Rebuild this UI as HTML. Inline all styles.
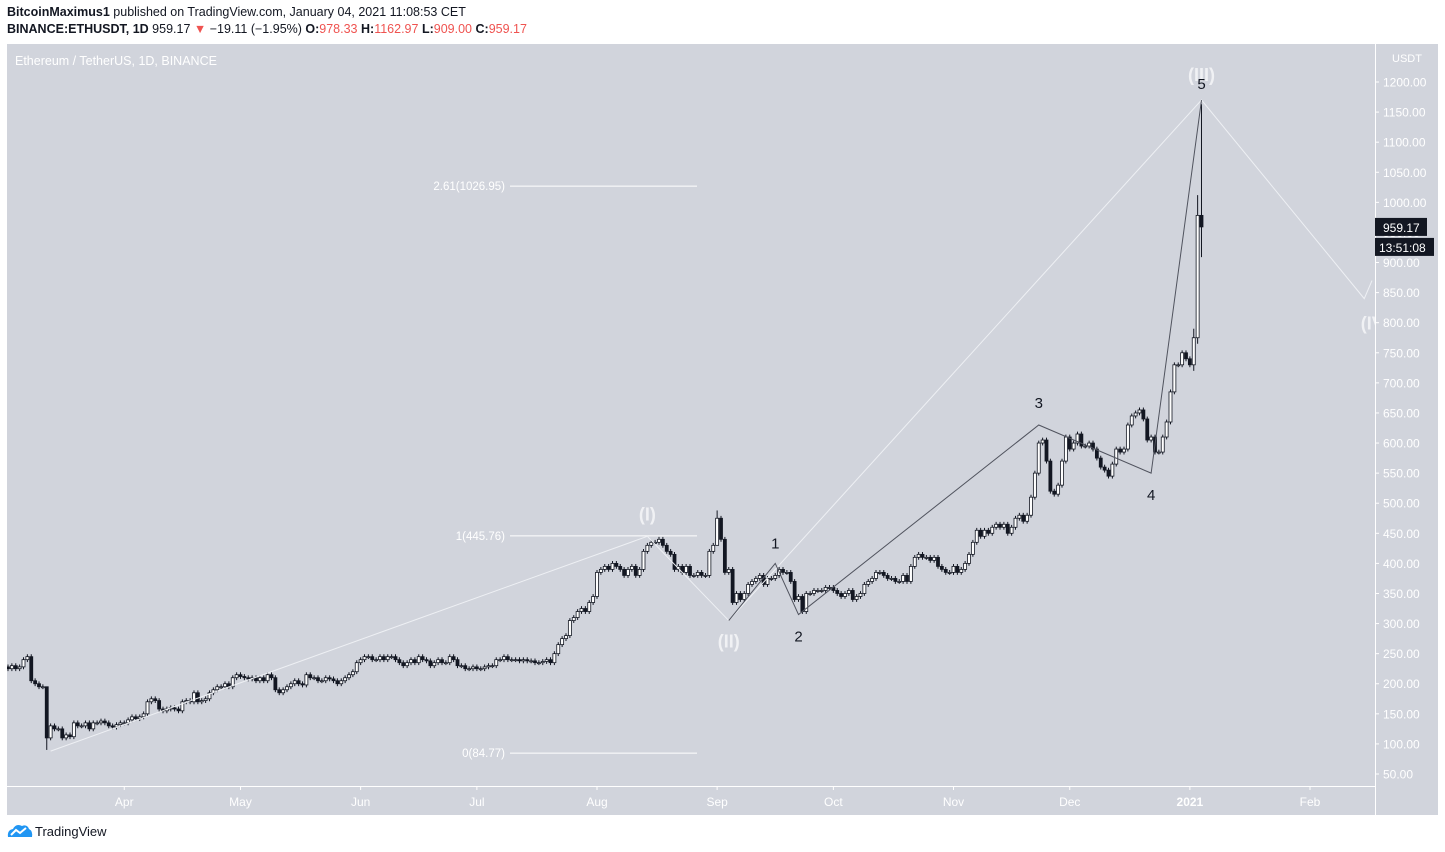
<!DOCTYPE html>
<html><head><meta charset="utf-8"><style>
body{margin:0;width:1445px;height:852px;background:#fff;font-family:"Liberation Sans",sans-serif;overflow:hidden;position:relative}
.hdr{position:absolute;left:7px;font-size:12.5px;color:#131722}
.red{color:#ef5350}
</style></head><body>
<div class="hdr" style="top:5px"><b>BitcoinMaximus1</b> published on TradingView.com, January 04, 2021 11:08:53 CET</div>
<div class="hdr" style="top:22px"><b>BINANCE:ETHUSDT, 1D</b> 959.17 <span class="red">▼</span> −19.11 (−1.95%) <b>O:</b><span class="red">978.33</span> <b>H:</b><span class="red">1162.97</span> <b>L:</b><span class="red">909.00</span> <b>C:</b><span class="red">959.17</span></div>
<svg id="chart" width="1445" height="852" style="position:absolute;left:0;top:0"></svg>
<div style="position:absolute;left:7px;top:823px;font-size:13px;color:#131722;display:flex;align-items:center">
<svg width="26" height="16" viewBox="0 0 26 16"><path d="M1 14 Q0 7 6 6 Q9 0 15 3 Q20 1 22 6 Q26 8 25 14 Z" fill="#2196f3"/><path d="M4 12 L9 7 L13 10 L19 5" stroke="#fff" stroke-width="2" fill="none"/></svg><span style="margin-left:2px">TradingView</span></div>
<script>
const closes=[225,230,225,228,240,245,205,200,195,195,110,130,125,125,110,115,112,135,130,130,135,125,135,135,138,135,130,128,132,135,
135,140,145,142,145,150,170,175,172,158,155,158,160,158,155,170,172,170,185,170,172,175,185,190,195,195,200,195,210,215,
212,210,208,210,205,210,205,215,210,190,185,190,195,200,205,200,198,215,210,210,205,205,210,208,205,200,205,210,215,220,235,
240,245,245,240,240,245,240,245,245,240,235,230,235,240,235,245,240,238,230,235,240,235,235,245,240,230,230,225,225,228,
225,225,228,230,230,240,240,245,240,240,240,238,240,238,238,235,235,237,240,235,250,265,275,280,305,310,320,325,320,335,345,
385,390,395,390,400,395,390,380,390,395,380,390,420,430,435,435,440,430,420,415,390,395,385,395,380,380,385,380,380,420,430,
475,440,385,390,335,350,340,350,365,370,375,380,365,375,375,380,390,385,385,370,340,345,320,350,350,355,355,355,360,360,
355,350,345,350,355,340,345,350,365,370,375,385,385,380,375,375,370,370,380,370,395,410,415,410,410,405,410,395,390,385,385,
395,385,390,400,415,435,455,445,455,450,460,465,460,465,450,460,475,480,470,480,510,550,600,605,570,520,515,530,570,610,
590,600,615,595,595,600,590,575,560,555,545,565,590,585,590,630,645,650,655,640,605,610,585,585,610,635,685,730,730,750,740,
730,775,978.33,959.17];
const firstOpen=228;
const wickDays=[10,183,306,307,308];
const wickHighs=[135,488,790,1012,1163];
const wickLows=[90,430,720,765,909];
const yTicks=[50,100,150,200,250,300,350,400,450,500,550,600,650,700,750,800,850,900,950,1000,1050,1100,1150,1200];
const monthLabels=["Apr","May","Jun","Jul","Aug","Sep","Oct","Nov","Dec","2021","Feb"];
const monthDays=[30,60,91,121,152,183,213,244,274,305,336];
const fibLevels=[2.61,1,0];
const fibPrices=[1026.95,445.76,84.77];
const cycleWaveLabels=["(I)","(II)","(III)","(IV"];
const cycleWaveDays=[165,186,308,350];
const cycleWavePrices=[445,305,1170,840];
const cycleStartDay=11, cycleStartPrice=88;
const subWaveLabels=["1","2","3","4","5"];
const subWaveDays=[198,204,266,295,308];
const subWavePrices=[400,315,630,550,1170];

const NS="http://www.w3.org/2000/svg";
const svg=document.getElementById('chart');
const L=7,R=1375,T=44,B=786;
const x=d=>8+d*3.875;
const y=v=>774-(v-50)*0.60174;
function el(t,a,p){const e=document.createElementNS(NS,t);for(const k in a)e.setAttribute(k,a[k]);(p||svg).appendChild(e);return e;}
const bg=el('rect',{x:L,y:T,width:R-L,height:B-T,fill:'#d1d4dc'});


const ax=el('rect',{x:R,y:T,width:1438-R,height:815-T,fill:'#d1d4dc'});


const bx=el('rect',{x:L,y:B,width:R-L,height:815-B,fill:'#d1d4dc'});


el('line',{x1:R+.5,y1:T,x2:R+.5,y2:815,stroke:'#fff'});
el('line',{x1:L,y1:B+.5,x2:R,y2:B+.5,stroke:'#fff'});
const defs=el('defs',{});const cp=el('clipPath',{id:'cp'},defs);el('rect',{x:L,y:T,width:R-L,height:B-T},cp);
const g=el('g',{'clip-path':'url(#cp)'});
const title=el('text',{x:15,y:65,fill:'#fff','font-size':12.5},g);title.textContent='Ethereum / TetherUS, 1D, BINANCE';


yTicks.forEach(v=>{el('line',{x1:R,x2:R+4,y1:y(v),y2:y(v),stroke:'#fff'});
const t=el('text',{x:1383,y:y(v)+4.5,fill:'#fff','font-size':12});t.textContent=v.toFixed(2);

});
const ut=el('text',{x:1392,y:62,fill:'#fff','font-size':11});ut.textContent='USDT';


monthLabels.forEach((m,i)=>{const xx=x(monthDays[i]);el('line',{x1:xx,x2:xx,y1:B,y2:B+4,stroke:'#fff'});
const t=el('text',{x:xx,y:806,fill:'#fff','font-size':12,'text-anchor':'middle','font-weight':m=='2021'?'bold':'normal'});t.textContent=m;

});
fibLevels.forEach((f,i)=>{const yy=y(fibPrices[i]);el('line',{x1:510,x2:697,y1:yy,y2:yy,stroke:'#fff'},g);
const t=el('text',{x:505,y:yy+4,fill:'#fff','font-size':11.5,'text-anchor':'end'},g);t.textContent=f+'('+fibPrices[i].toFixed(2)+')';

});
let prev=firstOpen;
closes.forEach((c,d)=>{const o=prev;prev=c;const xx=x(d);
let hi=Math.max(o,c)+4,lo=Math.min(o,c)-4;const wi=wickDays.indexOf(d);if(wi>=0){hi=wickHighs[wi];lo=wickLows[wi];}
const cg=el('g',{},g);


el('line',{x1:xx,x2:xx,y1:y(hi),y2:y(lo),stroke:'#131722'},cg);
const top=y(Math.max(o,c)),h=Math.max(1,y(Math.min(o,c))-top);
el('rect',{x:xx-1.5,y:top,width:3,height:h,fill:c>=o?'#fff':'#131722',stroke:'#131722','stroke-width':0.8},cg);});
let pts=[[x(cycleStartDay),y(cycleStartPrice)]];cycleWaveDays.forEach((d,i)=>pts.push([x(d),y(cycleWavePrices[i])]));
pts.push([x(352),y(870)]);
const cl=el('polyline',{points:pts.map(p=>p.join(',')).join(' '),fill:'none',stroke:'#eef0f4','stroke-width':1},g);


let sp=[[x(cycleWaveDays[1]),y(cycleWavePrices[1])]];subWaveDays.forEach((d,i)=>sp.push([x(d),y(subWavePrices[i])]));
const sl=el('polyline',{points:sp.map(p=>p.join(',')).join(' '),fill:'none',stroke:'#50535e','stroke-width':1},g);


const cOff=[-22,21,-25,25];
cycleWaveLabels.forEach((lb,i)=>{const t=el('text',{x:x(cycleWaveDays[i])+(i==3?8:0),y:y(cycleWavePrices[i])+cOff[i]+6,fill:'#f0f1f4','font-size':18,'font-weight':'bold','text-anchor':'middle'},g);t.textContent=lb;

});
const sOff=[-20,22,-22,22,-16];
subWaveLabels.forEach((lb,i)=>{const t=el('text',{x:x(subWaveDays[i]),y:y(subWavePrices[i])+sOff[i]+5,fill:'#131722','font-size':15,'text-anchor':'middle'},g);t.textContent=lb;

});
const last=closes[closes.length-1];
el('rect',{x:1375,y:y(last)-9,width:52,height:18,fill:'#131722'});
const pl=el('text',{x:1383,y:y(last)+5,fill:'#fff','font-size':12});pl.textContent=last.toFixed(2);


el('rect',{x:1375,y:y(last)+11,width:59,height:18,fill:'#131722'});
const cd=el('text',{x:1379,y:y(last)+25,fill:'#fff','font-size':12});cd.textContent='13:51:08';


</script>
</body></html>
